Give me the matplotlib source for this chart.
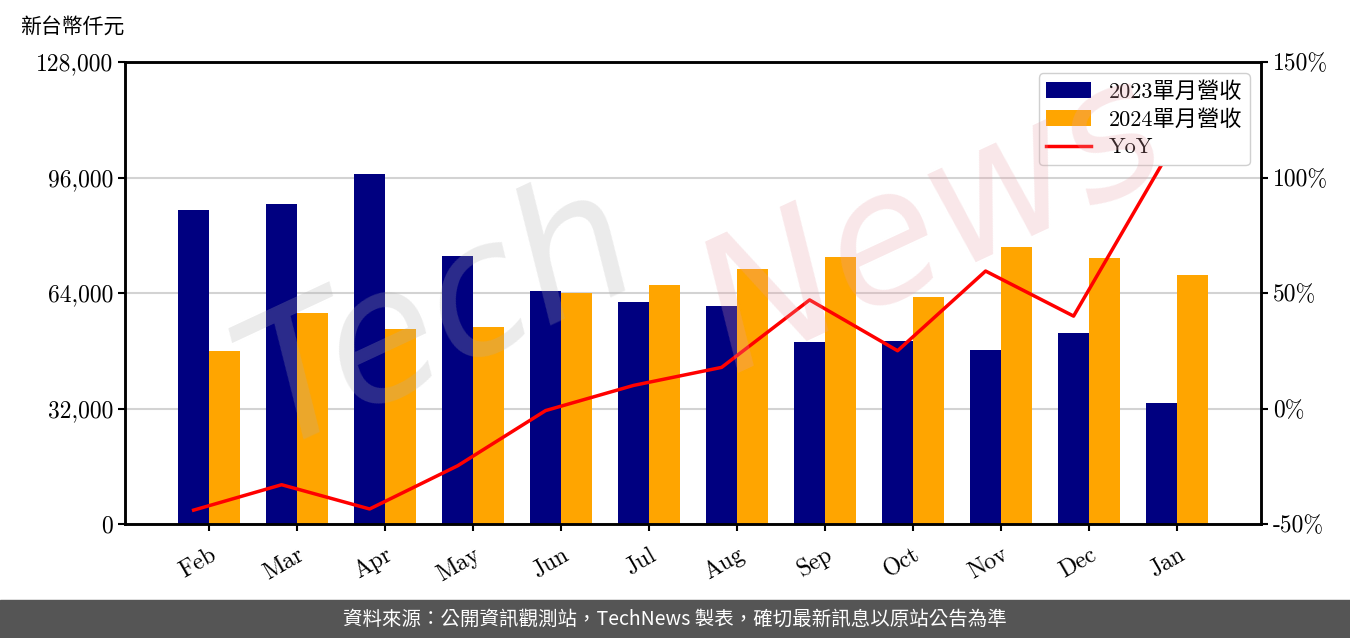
import numpy as np
import matplotlib
matplotlib.use("Agg")
import matplotlib.pyplot as plt
from matplotlib.ticker import FuncFormatter

plt.rcParams['font.family'] = ['cmr10', 'Noto Sans CJK TC', 'DejaVu Sans']
plt.rcParams['axes.formatter.use_mathtext'] = True

# 資料
months = ["Feb", "Mar", "Apr", "May", "Jun", "Jul", "Aug", "Sep", "Oct", "Nov", "Dec", "Jan"]
rev_2023 = [87000, 88700, 97000, 74300, 64600, 61500, 60400, 50400, 50700, 48200, 52900, 33500]
rev_2024 = [47900, 58500, 54000, 54600, 64000, 66200, 70700, 74000, 62900, 76800, 73700, 69000]
yoy = [-44.0, -33.0, -43.5, -24.8, -0.9, 10.0, 17.8, 47.0, 25.0, 59.5, 40.0, 105.5]

fig = plt.figure(figsize=(13.5, 6.38), dpi=100)
ax = fig.add_axes([125 / 1350, 1 - 524 / 638, 1136 / 1350, 462 / 638])

x = np.arange(len(months))
w = 0.35
ax.bar(x - w / 2, rev_2023, w, color="#000080", label="2023單月營收", zorder=2)
ax.bar(x + w / 2, rev_2024, w, color="#FFA500", label="2024單月營收", zorder=2)
ax.set_ylim(0, 128000)
ax.set_yticks([0, 32000, 64000, 96000, 128000])
ax.yaxis.set_major_formatter(FuncFormatter(lambda v, p: f"{int(v):,}"))
ax.grid(axis="y", color="#d3d3d3", lw=1.5, zorder=0)
ax.set_xlim(-0.955, 11.955)
ax.set_xticks(x)
ax.set_xticklabels(months, rotation=30, ha="right", rotation_mode="anchor")
ax.tick_params(labelsize=17, width=1.5, length=5)
ax.tick_params(axis="x", pad=9)
for s in ax.spines.values():
    s.set_linewidth(1.8)

ax2 = ax.twinx()
ax2.plot(x - w / 2, yoy, color="red", lw=2.5, label="YoY", zorder=3)
ax2.set_ylim(-50, 150)
ax2.set_yticks([-50, 0, 50, 100, 150])
ax2.yaxis.set_major_formatter(FuncFormatter(lambda v, p: f"{int(v)}%"))
ax2.tick_params(labelsize=17, width=1.5, length=5)
for s in ax2.spines.values():
    s.set_linewidth(1.8)

# 浮水印
fig.text(0.16, 0.30, "Tech", fontsize=130, color="#b0b0b0", alpha=0.25, rotation=25,
         family="DejaVu Sans", style="italic", zorder=0)
fig.text(0.50, 0.42, "News", fontsize=130, color="#e8a0a8", alpha=0.25, rotation=25,
         family="DejaVu Sans", style="italic", zorder=0)

h1, l1 = ax.get_legend_handles_labels()
h2, l2 = ax2.get_legend_handles_labels()
ax2.legend(h1 + h2, l1 + l2, loc="upper right", fontsize=16, framealpha=1,
           edgecolor="#d0d0d0", borderpad=0.35, handlelength=2.0, labelspacing=0.35)

fig.text(20 / 1350, 1 - 27 / 638, "新台幣仟元", fontsize=15, va="center",
         family=["Noto Sans CJK TC"])

# 頁尾
fig.patches.append(plt.Rectangle((0, 0), 1, 38 / 638, transform=fig.transFigure,
                                 color="#555555", zorder=0))
fig.text(0.5, 19 / 638, "資料來源：公開資訊觀測站，TechNews 製表，確切最新訊息以原站公告為準",
         color="white", fontsize=14, ha="center", va="center",
         family=["Noto Sans CJK TC", "DejaVu Sans"])

fig.savefig("out.png", dpi=100)
